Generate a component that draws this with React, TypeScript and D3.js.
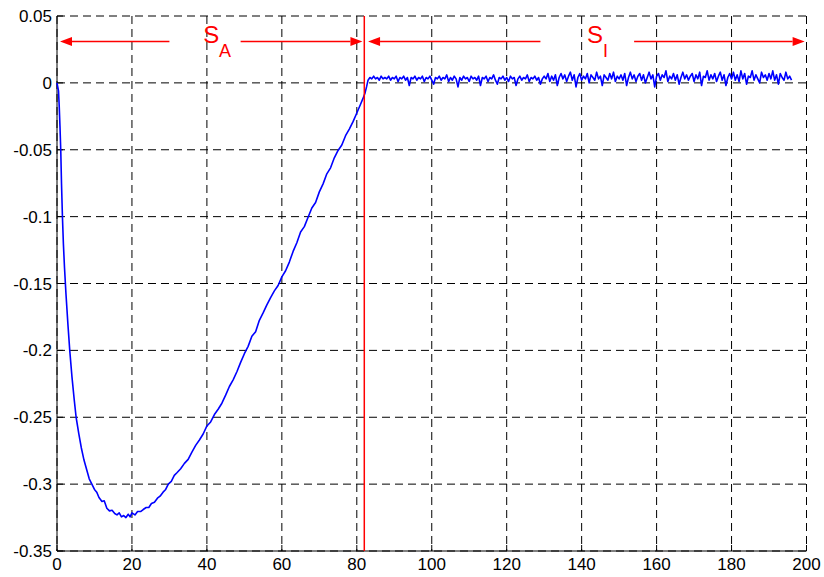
import React from "react";
import * as d3 from "d3";

const xTicks = [0, 20, 40, 60, 80, 100, 120, 140, 160, 180, 200];
const yTicks = [0.05, 0, -0.05, -0.1, -0.15, -0.2, -0.25, -0.3, -0.35];
const yTickLabels = ["0.05", "0", "-0.05", "-0.1", "-0.15", "-0.2", "-0.25", "-0.3", "-0.35"];

// transient part (x, y)
const transX = [0, 0.2, 0.4, 0.6, 0.8, 1.0, 1.2, 1.45, 1.7, 2.0, 2.4, 2.9, 3.4, 4.0, 4.6, 5.1, 5.8, 6.5, 7.2, 8.0, 8.6, 9.3, 10, 10.6, 11.2, 12, 12.6, 13.3, 14, 14.7, 15.4, 16, 16.6, 17.2, 17.8, 18.4, 19, 19.5, 20, 20.8, 21.5, 22.3, 23, 23.8, 24.5, 25.2, 26, 26.8, 27.5, 28.3, 29, 29.7, 30.5, 31.3, 32, 33, 34, 35, 36, 37, 38, 39, 40, 41, 42, 43, 44, 45, 46, 47, 48, 49, 50, 51, 52, 53, 54, 55, 56, 57, 58, 59, 60, 61, 62, 63, 64, 65, 66, 67, 68, 69, 70, 71, 72, 73, 74, 75, 76, 77, 78, 79, 80, 81, 81.6, 82.2, 82.6, 83];
const transY = [0, -0.003, -0.006, -0.018, -0.033, -0.05, -0.075, -0.1, -0.12, -0.138, -0.158, -0.18, -0.2, -0.22, -0.237, -0.25, -0.262, -0.273, -0.282, -0.29, -0.296, -0.3, -0.304, -0.306, -0.31, -0.313, -0.3125, -0.318, -0.32, -0.3195, -0.322, -0.323, -0.3215, -0.3245, -0.3235, -0.325, -0.3225, -0.3245, -0.3215, -0.323, -0.3205, -0.3205, -0.319, -0.3175, -0.3175, -0.3145, -0.3135, -0.3105, -0.309, -0.306, -0.304, -0.3, -0.298, -0.2935, -0.2915, -0.2885, -0.2845, -0.2815, -0.276, -0.271, -0.267, -0.2625, -0.2565, -0.2535, -0.248, -0.244, -0.2395, -0.2335, -0.227, -0.222, -0.216, -0.209, -0.2025, -0.197, -0.1895, -0.186, -0.1775, -0.172, -0.166, -0.1605, -0.1555, -0.1515, -0.145, -0.1405, -0.134, -0.126, -0.1195, -0.1115, -0.1075, -0.1005, -0.0935, -0.0895, -0.0815, -0.0755, -0.068, -0.0635, -0.056, -0.0505, -0.0465, -0.0395, -0.0345, -0.029, -0.0225, -0.016, -0.012, -0.0075, -0.003, 0.002];

// steady-state part, sampled every 0.5 from 83.5, values in thousandths
const steadyStart = 83.5;
const steadyStep = 0.5;
const steadyMilli = [
  4,3,5,3,4,2,5,3,4,3,5,2,4,3,5,1,4,3,5,2,4,-2,4,3,5,2,4,3,5,1,
  4,3,5,2,-1,4,3,5,2,4,3,6,1,4,2,5,3,-3,4,2,5,3,4,1,5,3,4,2,5,-2,
  4,3,5,1,4,3,6,2,-1,4,3,5,2,4,1,5,3,4,-2,3,5,2,4,3,6,1,4,3,5,2,
  4,-1,3,5,
  3,7,1,5,2,6,-2,4,7,3,6,1,5,8,2,6,-3,4,7,2,
  5,3,7,0,6,4,2,8,3,5,-2,6,4,2,7,3,8,1,5,3,
  6,2,7,-2,4,8,3,6,1,5,7,2,6,0,4,8,3,6,-3,5,
  7,2,6,4,9,1,5,3,7,2,6,-1,4,8,3,6,2,5,7,1,
  6,3,8,-2,5,4,9,2,6,3,7,1,5,8,2,6,-2,4,7,3,
  8,2,6,1,9,3,7,-1,5,4,9,2,6,3,0,8,4,6,2,7,
  3,9,2,6,-1,7,4,2,8,3,5,2,
];

const switchX = 82;
const arrowY = 0.031;
// arrows: [from, to] in x units, arrowhead at "to"
const arrows = [
  [30, 0.8],
  [49, 81.5],
  [129, 83],
  [154, 199.5],
];
const labels = [
  { main: "S", sub: "A", x: 39, subX: 43.2 },
  { main: "S", sub: "I", x: 141.4, subX: 145.7 },
];
const labelY = 0.0298;
const subY = 0.0194;

export default function App() {
  const W = 824, H = 577;
  const left = 57, right = 806.5, top = 16, bottom = 551;
  const x = d3.scaleLinear().domain([0, 200]).range([left, right]);
  const y = d3.scaleLinear().domain([-0.35, 0.05]).range([bottom, top]);

  const pts: [number, number][] = transX.map((v, i) => [v, transY[i]]);
  steadyMilli.forEach((m, i) => pts.push([steadyStart + i * steadyStep, m / 1000]));
  const line = d3.line<[number, number]>().x(d => x(d[0])).y(d => y(d[1]));

  const font = "Arial, 'Liberation Sans', Helvetica, sans-serif";
  const red = "#ff0000";
  const ay = y(arrowY);

  return (
    <svg width={W} height={H} style={{ position: "absolute", left: 0, top: 0, background: "#fff" }}>
      <rect width={W} height={H} fill="#fff" />
      {/* grid */}
      {xTicks.map(t => (
        <line key={"gx" + t} x1={x(t)} x2={x(t)} y1={top} y2={bottom} stroke="#000" strokeWidth={1} strokeDasharray="8,5" />
      ))}
      {yTicks.map(t => (
        <line key={"gy" + t} x1={left} x2={right} y1={y(t)} y2={y(t)} stroke="#000" strokeWidth={1} strokeDasharray="8,5" />
      ))}
      {/* axes */}
      <line x1={left} x2={left} y1={top} y2={bottom} stroke="#000" strokeWidth={1} />
      <line x1={left} x2={right} y1={bottom} y2={bottom} stroke="#000" strokeWidth={1} />
      {xTicks.map(t => (
        <line key={"tx" + t} x1={x(t)} x2={x(t)} y1={bottom} y2={bottom - 6} stroke="#000" />
      ))}
      {yTicks.map(t => (
        <line key={"ty" + t} x1={left} x2={left + 6} y1={y(t)} y2={y(t)} stroke="#000" />
      ))}
      {xTicks.map(t => (
        <text key={"lx" + t} x={x(t)} y={bottom + 19} textAnchor="middle" fontFamily={font} fontSize={17} fill="#000">{t}</text>
      ))}
      {yTicks.map((t, i) => (
        <text key={"ly" + t} x={left - 5} y={y(t) + 6} textAnchor="end" fontFamily={font} fontSize={17} fill="#000">{yTickLabels[i]}</text>
      ))}
      {/* data line */}
      <path d={line(pts) || ""} fill="none" stroke="#0000ff" strokeWidth={1.6} strokeLinejoin="round" />
      {/* switching line */}
      <line x1={x(switchX)} x2={x(switchX)} y1={top} y2={bottom} stroke={red} strokeWidth={1.5} />
      {/* arrows */}
      {arrows.map(([a, b], i) => {
        const xa = x(a), xb = x(b);
        const dir = xb > xa ? 1 : -1;
        const base = xb - dir * 12;
        return (
          <g key={"ar" + i}>
            <line x1={xa} x2={base} y1={ay} y2={ay} stroke={red} strokeWidth={1.5} />
            <path d={`M${xb},${ay} L${base},${ay - 4.5} L${base},${ay + 4.5} Z`} fill={red} />
          </g>
        );
      })}
      {labels.map((l, i) => (
        <g key={"lb" + i}>
          <text x={x(l.x)} y={y(labelY)} fontFamily={font} fontSize={24} fill={red}>{l.main}</text>
          <text x={x(l.subX)} y={y(subY)} fontFamily={font} fontSize={18} fill={red}>{l.sub}</text>
        </g>
      ))}
    </svg>
  );
}
